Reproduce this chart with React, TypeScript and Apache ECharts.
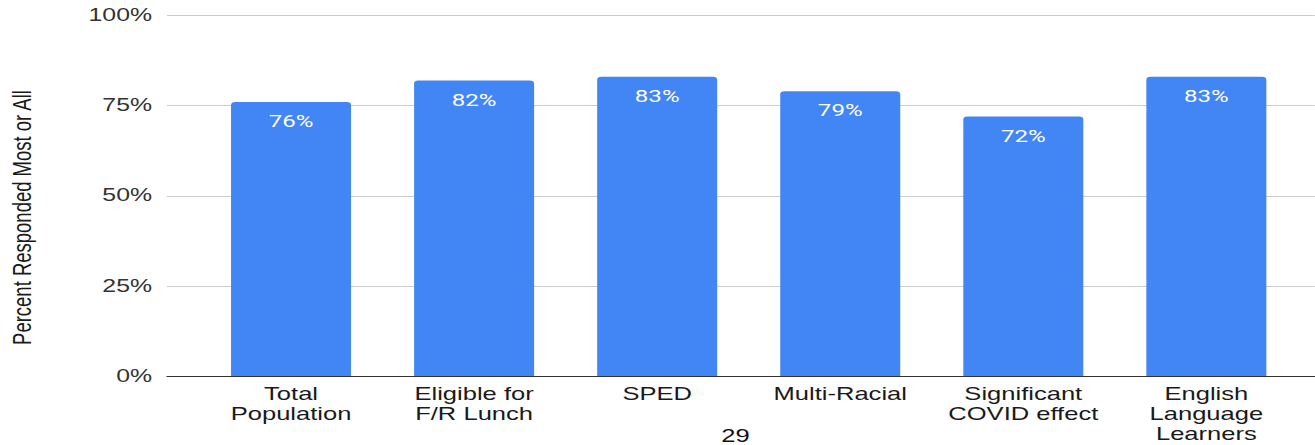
import React, { useEffect, useRef } from "react";
import * as echarts from "echarts";

const categories = [
  "Total\nPopulation",
  "Eligible for\nF/R Lunch",
  "SPED",
  "Multi-Racial",
  "Significant\nCOVID effect",
  "English\nLanguage\nLearners",
];
const values = [76, 82, 83, 79, 72, 83];
const yTicks = { min: 0, max: 100, interval: 25 };
const yTitle = "Percent Responded Most or All";
const pageNumber = "29";

const SX = 1.42;
const W = 926;
const H = 445;

export default function App() {
  const ref = useRef<HTMLDivElement>(null);
  useEffect(() => {
    if (!ref.current) return;
    const chart = echarts.init(ref.current, undefined, { renderer: "svg", width: W, height: H });
    const font = "'Liberation Sans', Arial, sans-serif";
    chart.setOption({
      animation: false,
      grid: [
        { left: 117.6, right: 0, top: 15.5, bottom: 69 },
        { left: 140.5, right: 12, top: 15.5, bottom: 69 },
      ],
      xAxis: [
        {
          gridIndex: 0,
          type: "value",
          min: 0,
          max: 1,
          axisLine: { show: true, lineStyle: { color: "#333", width: 1 } },
          axisTick: { show: false },
          axisLabel: { show: false },
          splitLine: { show: false },
        },
        {
          gridIndex: 1,
          type: "category",
          data: categories,
          axisLine: { show: false },
          axisTick: { show: false },
          axisLabel: {
            interval: 0,
            margin: 8,
            color: "#1a1a1a",
            fontSize: 18,
            lineHeight: 20,
            fontFamily: font,
          },
        },
      ],
      yAxis: [
        {
          gridIndex: 0,
          type: "value",
          min: yTicks.min,
          max: yTicks.max,
          interval: yTicks.interval,
          axisLine: { show: false },
          axisTick: { show: false },
          axisLabel: {
            formatter: "{value}%",
            color: "#333",
            fontSize: 17.5,
            margin: 10.5,
            fontFamily: font,
          },
          splitLine: { lineStyle: { color: "#cccccc", width: 1 } },
        },
        {
          gridIndex: 1,
          type: "value",
          min: yTicks.min,
          max: yTicks.max,
          interval: yTicks.interval,
          show: false,
          splitLine: { show: false },
        },
      ],
      series: [
        {
          type: "bar",
          xAxisIndex: 1,
          yAxisIndex: 1,
          data: values,
          barWidth: 84.5,
          itemStyle: { color: "#4285F4", borderRadius: [3, 3, 0, 0] },
          label: {
            show: true,
            position: "insideTop",
            distance: 11,
            formatter: "{c}%",
            color: "#ffffff",
            fontSize: 17,
            fontFamily: "Roboto, 'Liberation Sans', sans-serif",
          },
        },
      ],
      graphic: [
        {
          type: "text",
          x: 15.5,
          y: 217.5,
          rotation: Math.PI / 2,
          style: {
            text: yTitle,
            fontSize: 18.5,
            fontFamily: font,
            fill: "#1a1a1a",
            align: "center",
            verticalAlign: "middle",
          },
        },
        {
          type: "text",
          x: 518,
          y: 445,
          style: {
            text: pageNumber,
            fontSize: 18,
            fontFamily: font,
            fill: "#111",
            align: "center",
            verticalAlign: "bottom",
          },
        },
      ],
    });
    return () => chart.dispose();
  }, []);
  return (
    <div
      ref={ref}
      style={{
        position: "fixed",
        left: 0,
        top: 0,
        width: W,
        height: H,
        transform: `scaleX(${SX})`,
        transformOrigin: "0 0",
        background: "#fff",
      }}
    />
  );
}
